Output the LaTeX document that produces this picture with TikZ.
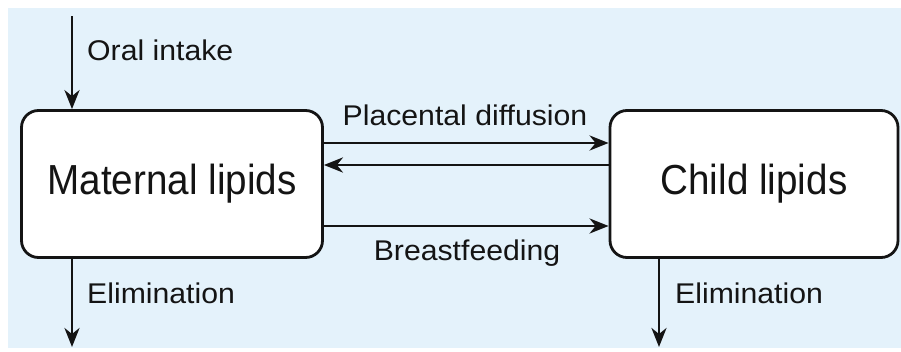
\documentclass[tikz,border=0pt]{standalone}
\usepackage{fontspec}
\setmainfont{Liberation Sans}
\newfontfamily\boxfont{Liberation Sans}[FakeStretch=0.92]
\newfontfamily\labfont{Liberation Sans}[FakeStretch=1.06]
\usetikzlibrary{arrows.meta}
\definecolor{bgblue}{HTML}{E4F2FB}
\definecolor{ink}{HTML}{141414}

\begin{document}
\begin{tikzpicture}[x=1pt,y=-1pt,
    pool/.style={draw=ink,line width=2.8pt,rounded corners=17pt,fill=white,minimum height=147pt,
      font=\boxfont\fontsize{42}{48}\selectfont,text=ink},
    flow/.style={draw=ink,line width=2.8pt,-{Stealth[length=19pt,width=15pt,inset=6pt]}},
    lab/.style={font=\labfont\fontsize{28.5}{32}\selectfont,text=ink,inner sep=0pt}]
    \useasboundingbox (0,0) rectangle (901,351);
    \fill[bgblue] (8,8) rectangle (901,348);
    \node[pool,minimum width=301pt] (mat) at (172,184) {Maternal lipids};
    \node[pool,minimum width=288pt] (child) at (754,184) {Child lipids};
    \coordinate (src) at (72,16); \coordinate (matout) at (72,347); \coordinate (childout) at (659,347);
    \draw[flow] (src) -- (src |- mat.north);
    \draw[flow] (matout |- mat.south) -- (matout);
    \draw[flow] (childout |- child.south) -- (childout);
    \draw[flow] ([yshift=41pt]mat.east) -- ([yshift=41pt]child.west);
    \draw[flow] ([yshift=19pt]child.west) -- ([yshift=19pt]mat.east);
    \draw[flow] ([yshift=-42pt]mat.east) -- ([yshift=-42pt]child.west);
    \node[lab,anchor=base west] (oral) at (87,60) {Oral intake};
    \node[lab,anchor=base west] (elimm) at (87,303) {Elimination};
    \node[lab,anchor=base west] (elimc) at (675,303) {Elimination};
    \node[lab,anchor=base] (plac) at (465,125) {Placental diffusion};
    \node[lab,anchor=base] (breast) at (467,260) {Breastfeeding};
  \end{tikzpicture}
\end{document}
